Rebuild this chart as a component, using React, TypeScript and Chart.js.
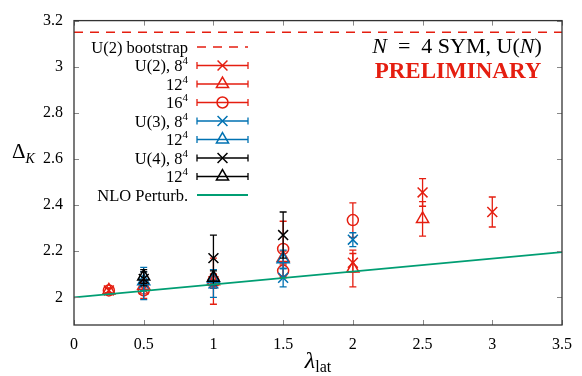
import React, { useEffect, useRef } from 'react';
import { Chart, registerables } from 'chart.js';
Chart.register(...registerables);

// ---- data ----
const xTicks = [0, 0.5, 1, 1.5, 2, 2.5, 3, 3.5];
const yTicks = [2, 2.2, 2.4, 2.6, 2.8, 3, 3.2];

const bootstrapLambda = [0, 3.5];
const bootstrapDelta = [3.15, 3.15];

const nloLambda = [0, 3.5];
const nloDelta = [2.0, 2.196];

const u2_8_lambda = [0.25, 0.5, 1, 2, 2.5, 3];
const u2_8_delta = [2.03, 2.035, 2.07, 2.15, 2.455, 2.37];
const u2_8_err = [0.01, 0.02, 0.03, 0.04, 0.06, 0.065];

const u2_12_lambda = [0.25, 0.5, 1, 1.5, 2, 2.5];
const u2_12_delta = [2.03, 2.05, 2.07, 2.17, 2.125, 2.34];
const u2_12_err = [0.01, 0.02, 0.03, 0.03, 0.08, 0.075];

const u2_16_lambda = [0.25, 0.5, 1, 1.5, 1.5, 2];
const u2_16_delta = [2.03, 2.03, 2.07, 2.21, 2.115, 2.335];
const u2_16_err = [0.01, 0.035, 0.1, 0.12, 0.03, 0.075];

const u3_8_lambda = [0.5, 1, 1.5, 2];
const u3_8_delta = [2.06, 2.06, 2.085, 2.25];
const u3_8_err = [0.07, 0.06, 0.04, 0.03];

const u3_12_lambda = [0.5, 1, 1.5];
const u3_12_delta = [2.07, 2.08, 2.165];
const u3_12_err = [0.04, 0.04, 0.04];

const u4_8_lambda = [0.5, 1, 1.5];
const u4_8_delta = [2.08, 2.17, 2.27];
const u4_8_err = [0.03, 0.1, 0.1];

const u4_12_lambda = [0.5, 1];
const u4_12_delta = [2.09, 2.085];
const u4_12_err = [0.03, 0.03];

const legendLabels = ['U(2) bootstrap', 'U(2), 8', '12', '16', 'U(3), 8', '12', 'U(4), 8', '12', 'NLO Perturb.'];
const legendSups = ['', '4', '4', '4', '4', '4', '4', '4', ''];

const RED = '#e51e10';
const BLUE = '#0072b2';
const BLACK = '#000000';
const GREEN = '#009e73';
const SERIF = '"Liberation Serif", "Times New Roman", serif';

const pts = (xs: number[], ys: number[]) => xs.map((x, i) => ({ x, y: ys[i] }));

function series(label: string, sup: string, xs: number[], ys: number[], errs: number[], color: string, style: string, radius: number) {
  return {
    label, sup, kind: 'err', marker: style,
    data: pts(xs, ys), errors: errs,
    showLine: false,
    borderColor: color, backgroundColor: 'rgba(0,0,0,0)',
    pointStyle: style, pointRadius: radius, pointHoverRadius: radius,
    pointBorderWidth: 1.5, borderWidth: 1.5,
  };
}

function drawParts(ctx: CanvasRenderingContext2D, parts: any[], x: number, y: number, align: string) {
  let total = 0;
  for (const p of parts) { ctx.font = p.font; total += ctx.measureText(p.t).width; }
  let cx = align === 'right' ? x - total : align === 'center' ? x - total / 2 : x;
  ctx.textAlign = 'left';
  ctx.textBaseline = 'alphabetic';
  for (const p of parts) {
    ctx.font = p.font;
    ctx.fillStyle = p.color || '#000';
    ctx.fillText(p.t, cx, y + (p.dy || 0));
    cx += ctx.measureText(p.t).width;
  }
}

function drawMarker(ctx: CanvasRenderingContext2D, style: string, x: number, y: number, r: number) {
  ctx.beginPath();
  if (style === 'crossRot') {
    const d = r * Math.SQRT1_2;
    ctx.moveTo(x - d, y - d); ctx.lineTo(x + d, y + d);
    ctx.moveTo(x - d, y + d); ctx.lineTo(x + d, y - d);
  } else if (style === 'triangle') {
    const a = Math.PI / 2;
    ctx.moveTo(x + Math.cos(-a) * r, y + Math.sin(-a) * r);
    ctx.lineTo(x + Math.cos(-a + 2.0944) * r, y + Math.sin(-a + 2.0944) * r);
    ctx.lineTo(x + Math.cos(-a + 4.1888) * r, y + Math.sin(-a + 4.1888) * r);
    ctx.closePath();
  } else {
    ctx.arc(x, y, r, 0, Math.PI * 2);
  }
  ctx.stroke();
}

const errorBarPlugin = {
  id: 'errbars',
  beforeDatasetDraw(chart: any, args: any) {
    const ds = chart.data.datasets[args.index];
    if (!ds.errors) return;
    const ctx = chart.ctx;
    const ys = chart.scales.y;
    ctx.save();
    ctx.strokeStyle = ds.borderColor;
    ctx.lineWidth = 1.3;
    args.meta.data.forEach((pt: any, i: number) => {
      const d = ds.data[i];
      const e = ds.errors[i];
      const yt = ys.getPixelForValue(d.y + e);
      const yb = ys.getPixelForValue(d.y - e);
      ctx.beginPath();
      ctx.moveTo(pt.x, yt); ctx.lineTo(pt.x, yb);
      ctx.moveTo(pt.x - 3.5, yt); ctx.lineTo(pt.x + 3.5, yt);
      ctx.moveTo(pt.x - 3.5, yb); ctx.lineTo(pt.x + 3.5, yb);
      ctx.stroke();
    });
    ctx.restore();
  },
};

const framePlugin = {
  id: 'frame',
  afterDraw(chart: any) {
    const ctx = chart.ctx as CanvasRenderingContext2D;
    const a = chart.chartArea;
    const xs = chart.scales.x;
    const ys = chart.scales.y;
    ctx.save();
    // inward ticks
    ctx.strokeStyle = '#888';
    ctx.lineWidth = 1;
    ctx.beginPath();
    for (const v of xTicks) {
      const px = Math.round(xs.getPixelForValue(v)) + 0.5;
      ctx.moveTo(px, a.bottom); ctx.lineTo(px, a.bottom - 5);
      ctx.moveTo(px, a.top); ctx.lineTo(px, a.top + 5);
    }
    for (const v of yTicks) {
      const py = Math.round(ys.getPixelForValue(v)) + 0.5;
      ctx.moveTo(a.left, py); ctx.lineTo(a.left + 5, py);
      ctx.moveTo(a.right, py); ctx.lineTo(a.right - 5, py);
    }
    ctx.stroke();
    // border
    ctx.strokeStyle = '#333';
    ctx.lineWidth = 1.3;
    ctx.strokeRect(a.left, a.top, a.right - a.left, a.bottom - a.top);

    // axis titles
    drawParts(ctx, [
      { t: 'Δ', font: `21px ${SERIF}` },
      { t: 'K', font: `italic 14px ${SERIF}`, dy: 5 },
    ], 12, 158, 'left');
    drawParts(ctx, [
      { t: 'λ', font: `italic 24px ${SERIF}` },
      { t: 'lat', font: `16px ${SERIF}`, dy: 4 },
    ], (a.left + a.right) / 2, 368, 'center');

    // top-right annotation
    drawParts(ctx, [
      { t: 'N', font: `italic 22px ${SERIF}` },
      { t: '  =  4 SYM, U(', font: `22px ${SERIF}` },
      { t: 'N', font: `italic 22px ${SERIF}` },
      { t: ')', font: `22px ${SERIF}` },
    ], 457, 53, 'center');
    drawParts(ctx, [{ t: 'PRELIMINARY', font: `bold 23px ${SERIF}`, color: RED }], 458, 78, 'center');

    // legend
    const rows = [47, 65.5, 84, 102.5, 121, 139.5, 158, 176.5, 195];
    const x0 = 197, x1 = 248, xm = 222.5, textRight = 188;
    chart.data.datasets.forEach((ds: any, i: number) => {
      const y = rows[i];
      const parts: any[] = [{ t: ds.label, font: `16.5px ${SERIF}` }];
      if (ds.sup) parts.push({ t: ds.sup, font: `11px ${SERIF}`, dy: -7 });
      drawParts(ctx, parts, textRight, y + 5.5, 'right');
      ctx.strokeStyle = ds.borderColor;
      if (ds.kind === 'dash') {
        ctx.lineWidth = 1.5;
        ctx.setLineDash(ds.borderDash);
        ctx.beginPath(); ctx.moveTo(x0, y); ctx.lineTo(x1, y); ctx.stroke();
        ctx.setLineDash([]);
      } else if (ds.kind === 'line') {
        ctx.lineWidth = 1.8;
        ctx.beginPath(); ctx.moveTo(x0, y); ctx.lineTo(x1, y); ctx.stroke();
      } else {
        ctx.lineWidth = 1.3;
        ctx.beginPath();
        ctx.moveTo(x0, y); ctx.lineTo(x1, y);
        ctx.moveTo(x0, y - 3.5); ctx.lineTo(x0, y + 3.5);
        ctx.moveTo(x1, y - 3.5); ctx.lineTo(x1, y + 3.5);
        ctx.stroke();
        ctx.lineWidth = 1.5;
        drawMarker(ctx, ds.marker, xm, y, ds.pointRadius);
      }
    });
    ctx.restore();
  },
};

export default function App() {
  const ref = useRef<HTMLCanvasElement>(null);
  useEffect(() => {
    const datasets: any[] = [
      {
        label: legendLabels[0], sup: legendSups[0], kind: 'dash',
        data: pts(bootstrapLambda, bootstrapDelta), showLine: true,
        borderColor: RED, borderWidth: 1.5, borderDash: [9, 7], pointRadius: 0,
      },
      series(legendLabels[1], legendSups[1], u2_8_lambda, u2_8_delta, u2_8_err, RED, 'crossRot', 7),
      series(legendLabels[2], legendSups[2], u2_12_lambda, u2_12_delta, u2_12_err, RED, 'triangle', 7),
      series(legendLabels[3], legendSups[3], u2_16_lambda, u2_16_delta, u2_16_err, RED, 'circle', 5.5),
      series(legendLabels[4], legendSups[4], u3_8_lambda, u3_8_delta, u3_8_err, BLUE, 'crossRot', 7),
      series(legendLabels[5], legendSups[5], u3_12_lambda, u3_12_delta, u3_12_err, BLUE, 'triangle', 7),
      series(legendLabels[6], legendSups[6], u4_8_lambda, u4_8_delta, u4_8_err, BLACK, 'crossRot', 7),
      series(legendLabels[7], legendSups[7], u4_12_lambda, u4_12_delta, u4_12_err, BLACK, 'triangle', 7),
      {
        label: legendLabels[8], sup: legendSups[8], kind: 'line',
        data: pts(nloLambda, nloDelta), showLine: true,
        borderColor: GREEN, borderWidth: 1.8, pointRadius: 0,
      },
    ];
    const n = datasets.length;
    datasets.forEach((d, i) => { d.order = n - i; });

    const tickFont = { family: SERIF, size: 16 };
    const chart = new Chart(ref.current as HTMLCanvasElement, {
      type: 'scatter',
      data: { datasets },
      options: {
        responsive: false,
        animation: false,
        events: [],
        layout: { padding: { top: 14, right: 19, left: 0, bottom: 0 } },
        plugins: { legend: { display: false }, tooltip: { enabled: false } },
        scales: {
          x: {
            type: 'linear', min: 0, max: 3.5,
            afterBuildTicks: (s: any) => { s.ticks = xTicks.map((v) => ({ value: v })); },
            ticks: { color: '#000', font: tickFont, padding: 10, maxRotation: 0, autoSkip: false, callback: (v: any) => String(v) },
            grid: { display: false, drawTicks: false },
            border: { display: false },
            afterFit: (s: any) => { s.height = 51; },
          },
          y: {
            type: 'linear', min: 1.88, max: 3.2,
            afterBuildTicks: (s: any) => { s.ticks = yTicks.map((v) => ({ value: v })); },
            ticks: { color: '#000', font: tickFont, padding: 11, autoSkip: false, callback: (v: any) => String(v) },
            grid: { display: false, drawTicks: false },
            border: { display: false },
            afterFit: (s: any) => { s.width = 74; },
          },
        },
      } as any,
      plugins: [errorBarPlugin, framePlugin],
    });
    return () => chart.destroy();
  }, []);
  return (
    <canvas
      ref={ref}
      width={582}
      height={376}
      style={{ position: 'absolute', left: 0, top: 0, width: 582, height: 376, display: 'block' }}
    />
  );
}
